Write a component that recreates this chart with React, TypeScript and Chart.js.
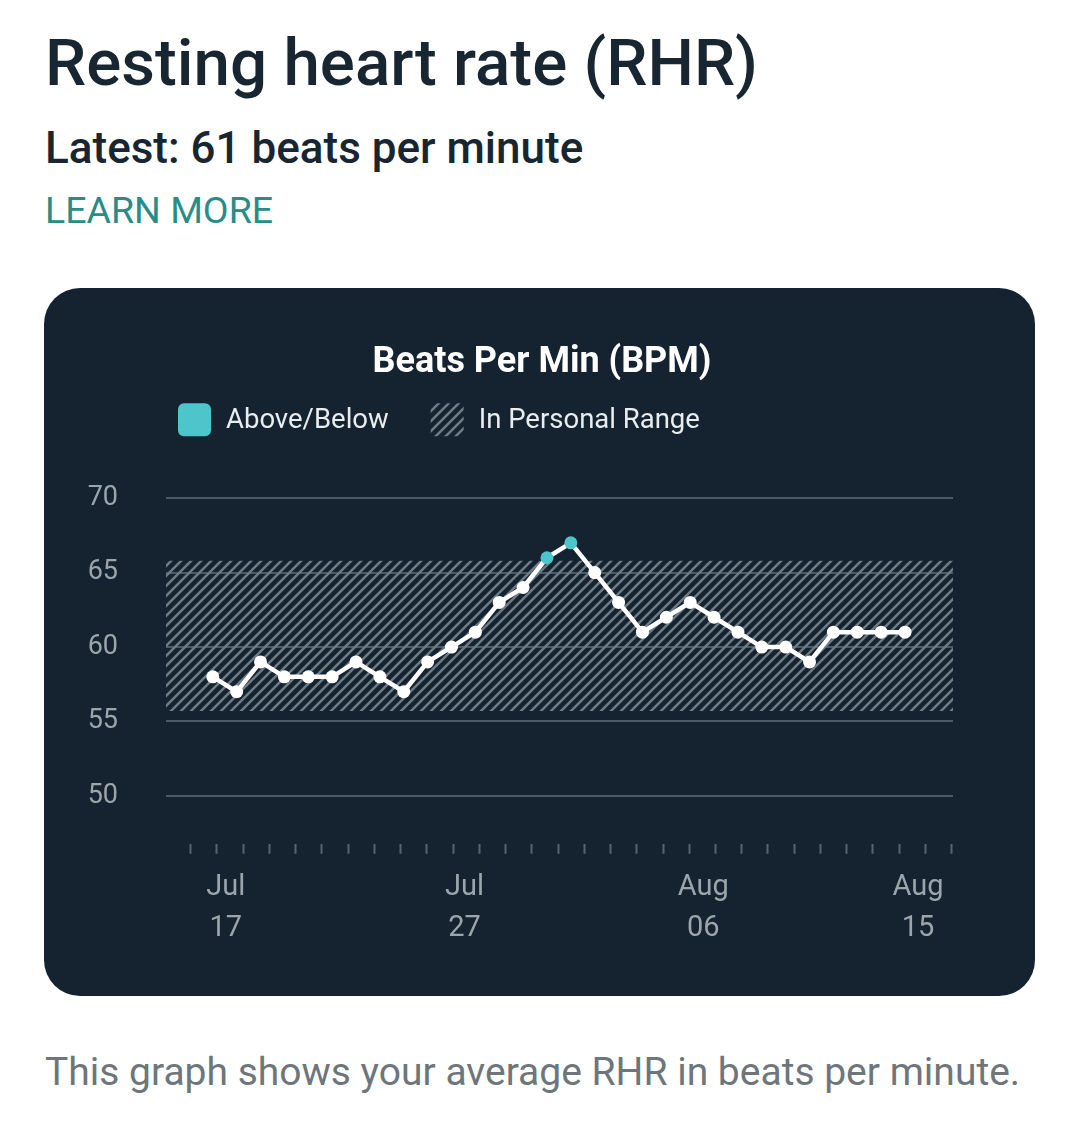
import React, { useEffect, useRef } from "react";
import { Chart, registerables } from "chart.js";

Chart.register(...registerables);

// ---------- data ----------
const DATES = [
  "Jul 17", "Jul 18", "Jul 19", "Jul 20", "Jul 21", "Jul 22", "Jul 23", "Jul 24",
  "Jul 25", "Jul 26", "Jul 27", "Jul 28", "Jul 29", "Jul 30", "Jul 31", "Aug 01",
  "Aug 02", "Aug 03", "Aug 04", "Aug 05", "Aug 06", "Aug 07", "Aug 08", "Aug 09",
  "Aug 10", "Aug 11", "Aug 12", "Aug 13", "Aug 14", "Aug 15",
];
const RHR = [
  58, 57, 59, 58, 58, 58, 59, 58, 57, 59,
  60, 61, 63, 64, 66, 67, 65, 63, 61, 62,
  63, 62, 61, 60, 60, 59, 61, 61, 61, 61,
];
const RANGE_LOW = [55.7];
const RANGE_HIGH = [65.8];
const Y_TICKS = [50, 55, 60, 65, 70];
const X_LABEL_INDEX = [0, 10, 20, 29];
const TICK_MARK_COUNT = 30;
const LEGEND_LABELS = ["Above/Below", "In Personal Range"];

// ---------- styles ----------
const TEAL = "#4ec5ca";
const CARD_BG = "#14232f";
const GRID = "#4a5963";
const AXIS_TEXT = "#9ba5ac";
const X_MIN = -1.96;
const X_MAX = 31.01;

function makeHatch(): CanvasPattern | string {
  const c = document.createElement("canvas");
  c.width = 10;
  c.height = 10;
  const g = c.getContext("2d");
  if (!g) return "rgba(120,135,145,0.5)";
  g.strokeStyle = "#6f7c85";
  g.lineWidth = 2.5;
  g.lineCap = "square";
  g.beginPath();
  g.moveTo(0, 10);
  g.lineTo(10, 0);
  g.moveTo(-5, 5);
  g.lineTo(5, -5);
  g.moveTo(5, 15);
  g.lineTo(15, 5);
  g.stroke();
  const p = g.createPattern(c, "repeat");
  return p || "rgba(120,135,145,0.5)";
}

const legendPlugin = {
  id: "rhrLegend",
  afterDraw(chart: any, _args: any, opts: any) {
    const { ctx, chartArea } = chart;
    const box = 33;
    const top = chartArea.top - 95;
    let x = chartArea.left + 12;
    ctx.save();
    ctx.font = "27.5px Roboto";
    ctx.textBaseline = "middle";
    ctx.textAlign = "left";
    LEGEND_LABELS.forEach((label, i) => {
      ctx.fillStyle = i === 0 ? TEAL : opts.hatch;
      ctx.beginPath();
      if (i === 0 && (ctx as any).roundRect) {
        (ctx as any).roundRect(x, top, box, box, 6);
      } else {
        ctx.rect(x, top, box, box);
      }
      ctx.fill();
      ctx.fillStyle = "#e8edf0";
      ctx.fillText(label, x + box + 15, top + box / 2 + 1);
      x += box + 15 + ctx.measureText(label).width + 42;
    });
    ctx.restore();
  },
};

function RhrChart() {
  const ref = useRef<HTMLCanvasElement | null>(null);
  useEffect(() => {
    if (!ref.current) return;
    const hatch = makeHatch();
    const pointColors = RHR.map((v) =>
      v > RANGE_HIGH[0] || v < RANGE_LOW[0] ? TEAL : "#ffffff"
    );
    const chart = new Chart(ref.current, {
      type: "line",
      data: {
        datasets: [
          {
            label: "RHR",
            xAxisID: "x",
            yAxisID: "y",
            data: RHR.map((y, i) => ({ x: i, y })),
            borderColor: "#ffffff",
            borderWidth: 4.5,
            pointRadius: 6.5,
            pointBorderWidth: 0,
            pointBackgroundColor: pointColors,
            pointBorderColor: pointColors,
            tension: 0,
            fill: false,
            order: 0,
          },
          {
            label: "Range high",
            xAxisID: "x",
            yAxisID: "y",
            data: [
              { x: X_MIN, y: RANGE_HIGH[0] },
              { x: X_MAX, y: RANGE_HIGH[0] },
            ],
            borderWidth: 0,
            borderColor: "rgba(0,0,0,0)",
            pointRadius: 0,
            fill: false,
            order: 1,
          },
          {
            label: "In Personal Range",
            xAxisID: "x",
            yAxisID: "y",
            data: [
              { x: X_MIN, y: RANGE_LOW[0] },
              { x: X_MAX, y: RANGE_LOW[0] },
            ],
            borderWidth: 0,
            borderColor: "rgba(0,0,0,0)",
            pointRadius: 0,
            backgroundColor: hatch as any,
            fill: "-1",
            order: 2,
          },
        ],
      },
      options: {
        responsive: false,
        animation: false,
        devicePixelRatio: 1,
        layout: { padding: { left: 44, right: 39, top: 0, bottom: 41 } },
        plugins: {
          legend: { display: false },
          tooltip: { enabled: false },
          title: {
            display: true,
            text: "Beats Per Min (BPM)",
            color: "#ffffff",
            font: { family: "Roboto", size: 36, weight: "bold", lineHeight: 1.2 },
            padding: { top: 53, bottom: 114 },
          },
          rhrLegend: { hatch },
        } as any,
        scales: {
          x: {
            type: "linear",
            position: "bottom",
            weight: 1,
            min: X_MIN,
            max: X_MAX,
            afterBuildTicks: (axis: any) => {
              axis.ticks = X_LABEL_INDEX.map((v) => ({ value: v }));
            },
            grid: { display: false },
            border: { display: false },
            ticks: {
              autoSkip: false,
              maxRotation: 0,
              color: AXIS_TEXT,
              font: { family: "Roboto", size: 29, lineHeight: 1.4 },
              padding: 6,
              labelOffset: 13,
              callback: (value: any) => {
                const d = DATES[Math.round(Number(value))];
                return d ? d.split(" ") : "";
              },
            },
          },
          y: {
            type: "linear",
            position: "left",
            min: 46.78,
            max: 70,
            afterBuildTicks: (axis: any) => {
              axis.ticks = Y_TICKS.map((v) => ({ value: v }));
            },
            afterFit: (scale: any) => {
              scale.width = 78;
            },
            grid: { color: GRID, lineWidth: 2, drawTicks: false },
            border: { display: false },
            ticks: {
              color: AXIS_TEXT,
              font: { family: "Roboto", size: 27 },
              padding: 48,
            },
          },
          yRight: {
            type: "linear",
            position: "right",
            grid: { display: false },
            border: { display: false },
            ticks: { display: false },
            afterFit: (scale: any) => {
              scale.width = 43;
            },
          },
          x2: {
            type: "linear",
            position: "bottom",
            weight: 0,
            min: -0.94,
            max: 29.05,
            afterBuildTicks: (axis: any) => {
              axis.ticks = Array.from({ length: TICK_MARK_COUNT }, (_, i) => ({ value: i }));
            },
            grid: {
              drawOnChartArea: false,
              drawTicks: true,
              tickLength: 10,
              tickWidth: 2,
              tickColor: "#56646d",
            },
            border: { display: false },
            ticks: { display: false },
          },
        } as any,
      },
      plugins: [legendPlugin as any],
    });
    return () => chart.destroy();
  }, []);
  return <canvas ref={ref} width={991} height={708} style={{ display: "block" }} />;
}

export default function App() {
  return (
    <div
      style={{
        position: "absolute",
        left: 0,
        top: 0,
        width: 1080,
        height: 1144,
        background: "#ffffff",
        fontFamily: "Roboto, 'Noto Sans', sans-serif",
        overflow: "hidden",
      }}
    >
      <div
        style={{
          position: "absolute",
          left: 45,
          top: 30,
          fontSize: 65.5,
          lineHeight: "65.5px",
          fontWeight: 500,
          color: "#172630",
          whiteSpace: "nowrap",
        }}
      >
        Resting heart rate (RHR)
      </div>
      <div
        style={{
          position: "absolute",
          left: 45,
          top: 126,
          fontSize: 44,
          lineHeight: "44px",
          fontWeight: 500,
          color: "#172630",
          whiteSpace: "nowrap",
        }}
      >
        Latest: 61 beats per minute
      </div>
      <div
        style={{
          position: "absolute",
          left: 45,
          top: 192,
          fontSize: 37.5,
          lineHeight: "37.5px",
          color: "#2a8c89",
          whiteSpace: "nowrap",
        }}
      >
        LEARN MORE
      </div>
      <div
        style={{
          position: "absolute",
          left: 44,
          top: 288,
          width: 991,
          height: 708,
          borderRadius: 36,
          background: CARD_BG,
          overflow: "hidden",
        }}
      >
        <RhrChart />
      </div>
      <div
        style={{
          position: "absolute",
          left: 45,
          top: 1053,
          fontSize: 39,
          lineHeight: "39px",
          color: "#6e767c",
          whiteSpace: "nowrap",
        }}
      >
        This graph shows your average RHR in beats per minute.
      </div>
    </div>
  );
}
